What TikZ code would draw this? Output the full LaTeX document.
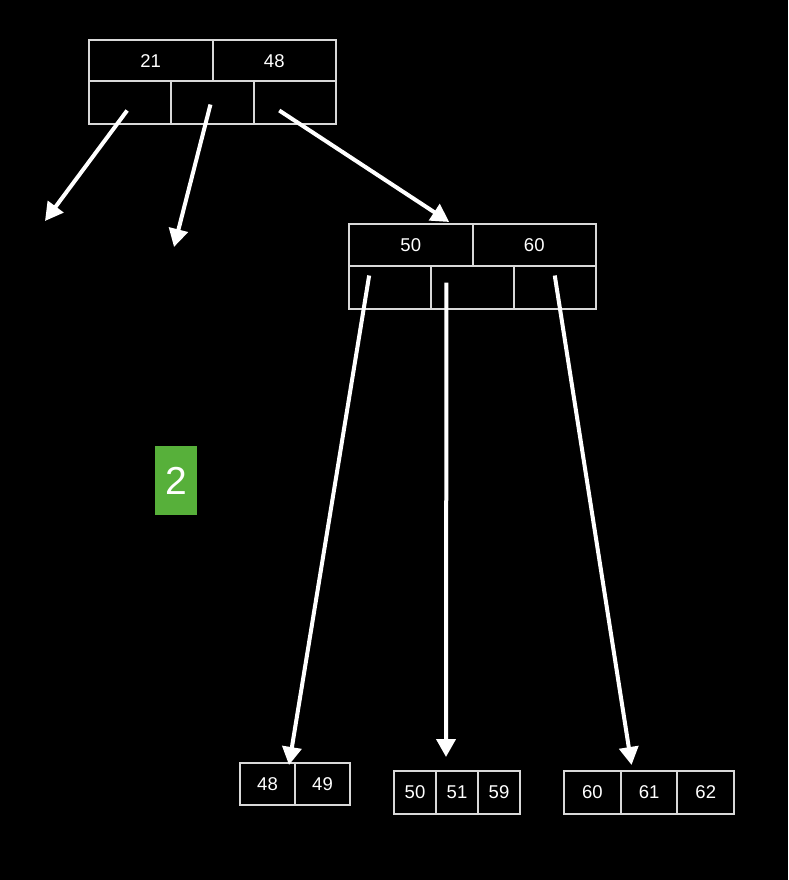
\documentclass[tikz,border=0pt]{standalone}
\usepackage{fontspec}
\setmainfont{Liberation Sans}
\usetikzlibrary{arrows.meta, positioning}
\definecolor{boxline}{RGB}{217,217,217}
\definecolor{badgegreen}{RGB}{87,176,58}

\begin{document}
\begin{tikzpicture}[
        x=1pt, y=-1pt,
        cell/.style={draw=boxline, line width=2pt, fill=black, text=white, inner sep=0pt, outer sep=0pt, font=\fontsize{18.5}{20}\selectfont},
        keycell/.style={cell, minimum width=123.5pt, minimum height=41.5pt},
        ptrcell/.style={cell, minimum width=82.3pt, minimum height=43pt},
        leafcell/.style={cell, minimum height=43pt},
        badge/.style={fill=badgegreen, text=white, inner sep=0pt, minimum width=42pt, minimum height=69pt, font=\fontsize{39}{40}\selectfont},
        link/.style={->, draw=white, line width=4pt},
        >={Triangle[length=18pt,width=19pt]}
    ]
        % Background
        \fill[black] (0,0) rectangle (788,880);

        % Root node
        \node[keycell, anchor=north west] (root21) at (89,40) {21};
        \node[keycell, right=0pt of root21] (root48) {48};
        \node[ptrcell, anchor=north west] (rootp1) at (root21.south west) {};
        \node[ptrcell, right=0pt of rootp1] (rootp2) {};
        \node[ptrcell, right=0pt of rootp2] (rootp3) {};

        % Inner node
        \node[keycell, anchor=north west] (mid50) at (349,224) {50};
        \node[keycell, right=0pt of mid50] (mid60) {60};
        \node[ptrcell, anchor=north west] (midp1) at (mid50.south west) {};
        \node[ptrcell, right=0pt of midp1] (midp2) {};
        \node[ptrcell, right=0pt of midp2] (midp3) {};

        % Leaves
        \node[leafcell, minimum width=55pt, minimum height=42pt, anchor=north west] (leaf48) at (240,763) {48};
        \node[leafcell, minimum width=55pt, minimum height=42pt, right=0pt of leaf48] (leaf49) {49};
        \node[leafcell, minimum width=42pt, anchor=north west] (leaf50) at (394,771) {50};
        \node[leafcell, minimum width=42pt, right=0pt of leaf50] (leaf51) {51};
        \node[leafcell, minimum width=42pt, right=0pt of leaf51] (leaf59) {59};
        \node[leafcell, minimum width=56.7pt, anchor=north west] (leaf60) at (564,771) {60};
        \node[leafcell, minimum width=56.7pt, right=0pt of leaf60] (leaf61) {61};
        \node[leafcell, minimum width=56.7pt, right=0pt of leaf61] (leaf62) {62};

        % Badge
        \node[badge] (step2) at (176,480.5) {2};

        % Free ends
        \coordinate (lost1) at (45,221);
        \coordinate (lost2) at (174,247);

        % Arrows
        \draw[link] ([shift={(-3,7.5)}]rootp1.center) -- (lost1);
        \draw[link] ([shift={(-2,1.5)}]rootp2.center) -- (lost2);
        \draw[link] ([shift={(-15.5,7.5)}]rootp3.center) -- ([shift={(38.5,-2)}]mid50.north);
        \draw[link] ([shift={(-21,-11.5)}]midp1.center) -- ([shift={(-6,2)}]leaf48.north east);
        \draw[link] ([shift={(-26,-4.5)}]midp2.center) -- ([shift={(-11,-14)}]leaf51.north);
        \draw[link] ([shift={(0,-11.5)}]midp3.center) -- ([shift={(-17.5,-6)}]leaf61.north);
\end{tikzpicture}
\end{document}
